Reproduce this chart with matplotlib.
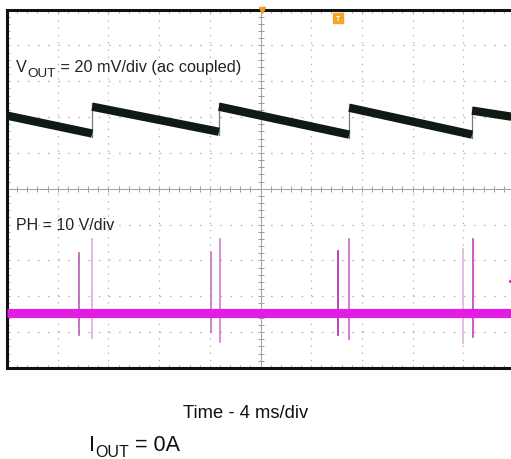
import numpy as np
import matplotlib
matplotlib.use("Agg")
import matplotlib.pyplot as plt
from matplotlib.ticker import MultipleLocator

plt.rcParams['font.family'] = ['Liberation Sans', 'DejaVu Sans']
plt.rcParams['lines.scale_dashes'] = False

# ---------------- data (time in ms, amplitude in screen divisions) ----------------
# VOUT sawtooth segments (start/end time, start/end level)
vout_t0 = [0.0, 6.72, 16.72, 27.0, 36.7]
vout_t1 = [6.72, 16.72, 27.0, 36.7, 39.8]
vout_v0 = [2.04, 2.29, 2.29, 2.26, 2.18]
vout_v1 = [1.54, 1.59, 1.51, 1.51, 2.01]

# PH switch node: baseline level and switching spikes
ph_level = -3.46
ph_span = [0.0, 40.0]
spike_t = [5.70, 6.71, 16.09, 16.80, 26.14, 27.0, 36.0, 36.74]
spike_top = [-1.78, -1.40, -1.76, -1.40, -1.73, -1.40, -1.68, -1.40]
spike_bot = [-4.08, -4.16, -3.99, -4.27, -4.08, -4.19, -4.30, -4.13]
spike_col = ['#b85cb8', '#e6a6e6', '#c070c0', '#d27ad2',
             '#a82aa8', '#d060d0', '#e2b2e2', '#c040c0']

trig_pos = 20.1
trig_marker = (26.14, 4.75)
ph_ref = (39.75, -2.57)

vout_label = ("V", "OUT", " = 20 mV/div (ac coupled)")
ph_label = "PH = 10 V/div"
time_label = "Time - 4 ms/div"
iout_label = ("I", "OUT", " = 0A")

# ---------------- figure ----------------
fig = plt.figure(figsize=(5.11, 4.59), dpi=100)
fig.patch.set_facecolor('white')
ax = fig.add_axes([7 / 511, 91 / 459, 507 / 511, 358.5 / 459])
ax.set_xlim(0, 40)
ax.set_ylim(-5, 5)

for s in ['left', 'top', 'bottom']:
    ax.spines[s].set_linewidth(2.2)
    ax.spines[s].set_color('#111111')
ax.spines['right'].set_visible(False)

ax.set_xticks(np.arange(0, 40.1, 4))
ax.set_yticks(np.arange(-5, 5.1, 1))
ax.xaxis.set_minor_locator(MultipleLocator(0.8))
ax.yaxis.set_minor_locator(MultipleLocator(0.2))
ax.tick_params(which='both', direction='in', length=2.5, width=0.7, color='#a8a8a8',
               top=True, bottom=True, left=True, right=False,
               labelbottom=False, labelleft=False)
ax.xaxis.grid(True, color='#b4b4b4', lw=0.9, linestyle=(0, (1.0, 4.2)))
ax.yaxis.grid(True, color='#b4b4b4', lw=0.9, linestyle=(0, (1.2, 6.1)))

# centre cross with ticks
ax.axvline(20, color='#9a9a9a', lw=0.7, zorder=1)
ax.axhline(0, color='#9a9a9a', lw=0.7, zorder=1)
ax.plot(np.arange(0, 40.01, 0.8), np.zeros(51), ls='none', marker='|', ms=4,
        mew=0.7, color='#9a9a9a', zorder=1)
ax.plot(np.full(51, 20.0), np.arange(-5, 5.01, 0.2), ls='none', marker='_', ms=4,
        mew=0.7, color='#9a9a9a', zorder=1)

# VOUT trace
for i in range(len(vout_t0)):
    ax.plot([vout_t0[i], vout_t1[i]], [vout_v0[i], vout_v1[i]], color='#0e1a12',
            lw=6.0, solid_capstyle='butt', zorder=4)
for i in range(1, len(vout_t0)):
    ax.plot([vout_t0[i], vout_t0[i]], [vout_v1[i - 1] - 0.1, vout_v0[i] + 0.1],
            color='#7a7a7a', lw=0.9, zorder=3)

# PH trace
for t, top, bot, c in zip(spike_t, spike_top, spike_bot, spike_col):
    ax.plot([t, t], [bot, top], color=c, lw=1.2, zorder=3)
ax.plot(ph_span, [ph_level, ph_level], color='#e31be3', lw=6.6,
        solid_capstyle='butt', zorder=4)
ax.plot([ph_ref[0]], [ph_ref[1]], marker='<', ms=3.5, color='#d020d0',
        ls='none', zorder=5, clip_on=False)

# trigger markers
ax.plot([trig_pos], [5.0], marker='v', ms=5, color='#f0a020', ls='none',
        zorder=6, clip_on=False)
ax.plot([trig_marker[0]], [trig_marker[1]], marker='s', ms=7, color='#f5a623',
        ls='none', zorder=6)
ax.text(trig_marker[0], trig_marker[1] - 0.02, 'T', color='white', fontsize=5,
        fontweight='bold', ha='center', va='center', zorder=7)


def sub_text(x, y, parts, size, subsize, drop, transform, color):
    t1 = fig.text(x, y, parts[0], fontsize=size, va='baseline', ha='left',
                  transform=transform, color=color, zorder=8)
    t2 = ax.annotate(parts[1], xy=(1, 0), xycoords=t1, xytext=(0.5, -drop),
                     textcoords='offset pixels', fontsize=subsize, va='bottom',
                     ha='left', color=color, annotation_clip=False, zorder=8)
    ax.annotate(parts[2], xy=(1, 0), xycoords=t2, xytext=(0, drop),
                textcoords='offset pixels', fontsize=size, va='bottom',
                ha='left', color=color, annotation_clip=False, zorder=8)


sub_text(16 / 511, (459 - 72) / 459, vout_label, 11.7, 9.7, 5, fig.transFigure, '#222222')
fig.text(16 / 511, (459 - 230) / 459, ph_label, fontsize=11.5, va='baseline',
         ha='left', color='#222222')
fig.text(183 / 511, (459 - 418) / 459, time_label, fontsize=13.2, va='baseline',
         ha='left', color='#111111')
sub_text(89 / 511, (459 - 451) / 459, iout_label, 15.5, 11.5, 4, fig.transFigure, '#111111')

fig.savefig('out.png', dpi=100, facecolor='white')
